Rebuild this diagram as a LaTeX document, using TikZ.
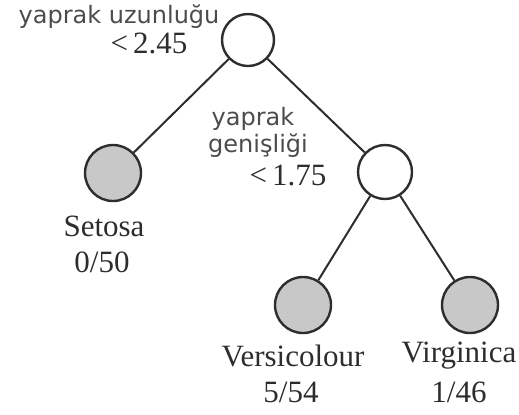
\documentclass[tikz,border=0pt]{standalone}
\usepackage{fontspec}
\setmainfont{Liberation Serif}
\newfontfamily\labelfont{DejaVu Sans}
\definecolor{leafgray}{RGB}{200,200,200}
\definecolor{inkgray}{RGB}{45,45,45}

\begin{document}
\begin{tikzpicture}[
    x=0.5pt, y=-0.5pt,
    splitnode/.style={
        circle,
        draw=inkgray,
        line width=1.2pt,
        fill=white,
        minimum size=26pt,
        inner sep=0pt
    },
    leafnode/.style={
        circle,
        draw=inkgray,
        line width=1.2pt,
        fill=leafgray,
        minimum size=28pt,
        inner sep=0pt
    },
    testtext/.style={
        inner sep=0pt,
        text=inkgray!85,
        font=\labelfont\fontsize{12}{14}\selectfont
    },
    valtext/.style={
        inner sep=0pt,
        text=inkgray,
        font=\fontsize{15.5}{18}\selectfont
    },
    branch/.style={
        line width=1pt,
        draw=inkgray
    }
]
\useasboundingbox (0,0) rectangle (519,414);

% Tree nodes
\node[splitnode] (root) at (248,40) {};
\node[splitnode, minimum size=27pt] (width) at (385,172) {};
\node[leafnode] (setosa) at (113,173) {};
\node[leafnode] (versi) at (303,305) {};
\node[leafnode] (virgi) at (470,305) {};

% Tests
\node[testtext] (lenname) at (119,17) {yaprak uzunluğu};
\node[valtext] (lenval) at (149,43) {<\,2.45};
\node[testtext] (widname1) at (253,119) {yaprak};
\node[testtext] (widname2) at (258,146) {genişliği};
\node[valtext] (widval) at (288,175) {<\,1.75};

% Classes
\node[valtext] (setname) at (104,226) {Setosa};
\node[valtext] (setcount) at (102,262) {0/50};
\node[valtext] (versname) at (293,356) {Versicolour};
\node[valtext] (verscount) at (291,392) {5/54};
\node[valtext] (virgname) at (459,356) {Virginica};
\node[valtext] (virgcount) at (459,392) {1/46};

% Branches
\draw[branch] (root) -- (setosa);
\draw[branch] (root) -- (width);
\draw[branch] (width) -- (versi);
\draw[branch] (width) -- (virgi);

\end{tikzpicture}
\end{document}
